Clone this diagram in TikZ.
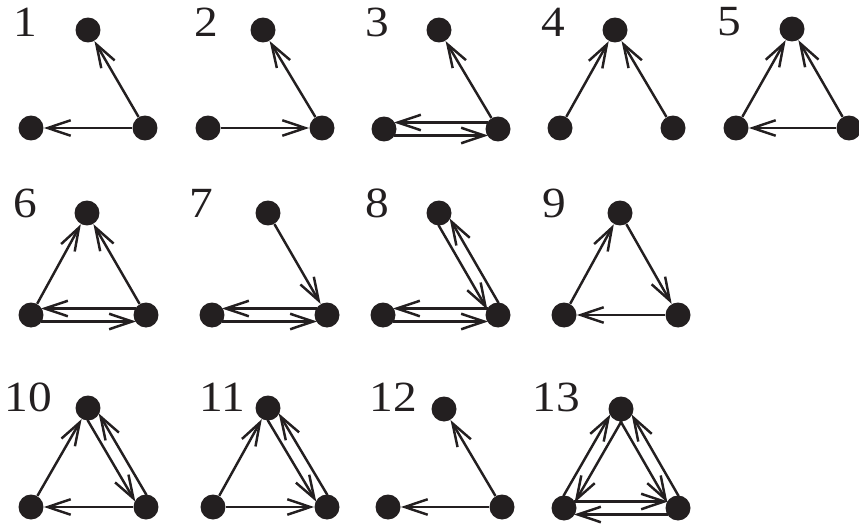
\documentclass[tikz,border=0pt]{standalone}
\usepackage{fontspec}
\usepackage{tikz}
\usetikzlibrary{
  arrows.meta,
  calc,
}
\newfontfamily\numfont[FakeStretch=1.1]{Liberation Serif}
\definecolor{ink}{HTML}{231F20}
\tikzset{
  >={Straight Barb[length=4.6mm,width=3.1mm]},
  dot/.style={circle, fill=ink, inner sep=0pt, minimum size=5mm},
  tie/.style={->, draw=ink, line width=1.4pt},
  tag/.style={font=\numfont\fontsize{24.5pt}{24.5pt}\selectfont, text=ink, inner sep=0pt},
}
% two opposite arcs side by side: #1 -> #2 on side #3 (90 or -90)
\newcommand{\twin}[3]{%
  \draw[tie, shorten <=2mm, shorten >=2mm] ($(#1)!1.3mm!#3:(#2)$) -- ($(#2)!-1.3mm!#3:(#1)$);
  \draw[tie, shorten <=2mm, shorten >=2mm] ($(#2)!1.3mm!#3:(#1)$) -- ($(#1)!-1.3mm!#3:(#2)$);
}

\begin{document}
\begin{tikzpicture}[x=0.02cm,y=-0.02cm]
  \useasboundingbox (0,0) rectangle (859,524);

  % triads: top, bottom left, bottom right
  \foreach \n/\tx/\ty/\lx/\rx/\by in {
    1/88/30/31/145/128, 2/263/30/208/322/128, 3/439/30/384/498/129,
    4/615/30/560/673/128, 5/792/29/736/849/128,
    6/87/213/31/146/315, 7/268/213/212/327/315, 8/439/213/383/498/315,
    9/620/213/564/678/315,
    10/88/408/31/146/507, 11/268/408/213/327/507, 12/444/409/388/502/507,
    13/621/409/564/678/508} {
    \node[dot] (T\n) at (\tx,\ty) {};
    \node[dot] (L\n) at (\lx,\by) {};
    \node[dot] (R\n) at (\rx,\by) {};
  }

  % numbers
  \foreach \n/\x/\y in {1/25/22, 2/206/22, 3/377/22, 4/553/22, 5/729/22,
    6/25/203, 7/201/203, 8/377/203, 9/554/203,
    10/28/397, 11/222/397, 12/393/397, 13/556/397} {
    \node[tag] (n\n) at (\x,\y) {\n};
  }

  % row 1
  \draw[tie] (R1) -- (T1);
  \draw[tie] (R1) -- (L1);
  \draw[tie] (R2) -- (T2);
  \draw[tie] (L2) -- (R2);
  \draw[tie] (R3) -- (T3);
  \twin{L3}{R3}{-90}
  \draw[tie] (L4) -- (T4);
  \draw[tie] (R4) -- (T4);
  \draw[tie] (L5) -- (T5);
  \draw[tie] (R5) -- (T5);
  \draw[tie] (R5) -- (L5);

  % row 2
  \draw[tie] (L6) -- (T6);
  \draw[tie] (R6) -- (T6);
  \twin{L6}{R6}{-90}
  \draw[tie] (T7) -- (R7);
  \twin{L7}{R7}{-90}
  \twin{T8}{R8}{-90}
  \twin{L8}{R8}{-90}
  \draw[tie] (L9) -- (T9);
  \draw[tie] (T9) -- (R9);
  \draw[tie] (R9) -- (L9);

  % row 3
  \draw[tie] (L10) -- (T10);
  \twin{T10}{R10}{-90}
  \draw[tie] (R10) -- (L10);
  \draw[tie] (L11) -- (T11);
  \twin{T11}{R11}{-90}
  \draw[tie] (L11) -- (R11);
  \draw[tie] (R12) -- (T12);
  \draw[tie] (R12) -- (L12);
  \twin{T13}{L13}{90}
  \twin{T13}{R13}{-90}
  \twin{L13}{R13}{90}
\end{tikzpicture}
\end{document}
